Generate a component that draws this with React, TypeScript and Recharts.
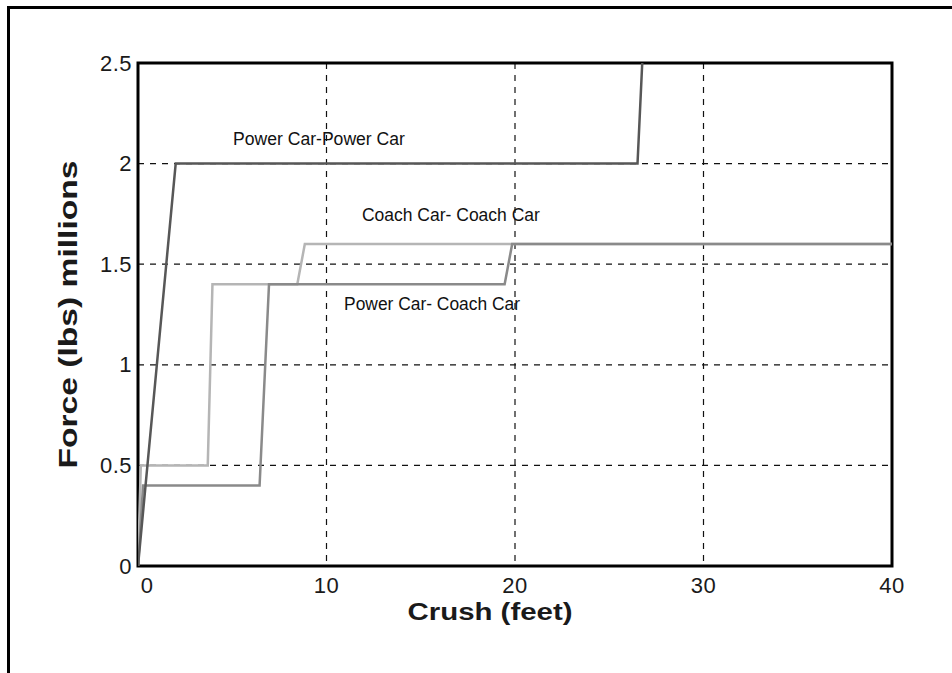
import React from 'react';
import {
  LineChart,
  Line,
  XAxis,
  YAxis,
  CartesianGrid,
  ReferenceArea,
  ReferenceDot,
  Label,
} from 'recharts';

// ---- data ----
const powerPowerX = [0, 2.0, 26.5, 26.75];
const powerPowerY = [0, 2.0, 2.0, 2.5];

const coachCoachX = [0, 0.15, 3.7, 3.95, 8.45, 8.85, 40];
const coachCoachY = [0, 0.5, 0.5, 1.4, 1.4, 1.6, 1.6];

const powerCoachX = [0, 0.27, 6.45, 6.95, 19.45, 19.85, 40];
const powerCoachY = [0, 0.4, 0.4, 1.4, 1.4, 1.6, 1.6];

const xTicks = [0, 10, 20, 30, 40];
const yTicks = [0, 0.5, 1, 1.5, 2, 2.5];

const annotationTexts = ['Power Car-Power Car', 'Coach Car- Coach Car', 'Power Car- Coach Car'];
const annotationX = [9.6, 16.6, 15.6];
const annotationY = [2.12, 1.745, 1.3];

const xTitle = 'Crush (feet)';
const yTitle = 'Force (lbs) millions';

// ---- styles ----
const FONT = "Arial, 'Liberation Sans', Helvetica, sans-serif";
const annotationLengths = [172, 178, 176];
const COLOR_DARK = '#575757';
const COLOR_MED = '#8a8a8a';
const COLOR_LIGHT = '#b5b5b5';

const zip = (xs: number[], ys: number[]) => xs.map((x, i) => ({ x, y: ys[i] }));
const powerPowerData = zip(powerPowerX, powerPowerY);
const coachCoachData = zip(coachCoachX, coachCoachY);
const powerCoachData = zip(powerCoachX, powerCoachY);

const XTick = (props: any) => {
  const { x, y, payload } = props;
  const shift = payload.value === 0 ? 9 : 0;
  return (
    <text x={x + shift} y={y} dy={19} textAnchor="middle" fontSize={22} letterSpacing={0.5} fill="#1a1a1a" fontFamily={FONT}>
      {String(payload.value)}
    </text>
  );
};

const YTick = (props: any) => {
  const { x, y, payload } = props;
  return (
    <text x={x} y={y} dy={7.5} textAnchor="end" fontSize={22} letterSpacing={0.5} fill="#1a1a1a" fontFamily={FONT}>
      {String(payload.value)}
    </text>
  );
};

const YTitle = (props: any) => {
  const vb = props.viewBox || {};
  const cx = vb.x - 10;
  const cy = vb.y + vb.height / 2;
  return (
    <text
      x={cx}
      y={cy}
      transform={`rotate(-90 ${cx} ${cy})`}
      textAnchor="middle"
      dominantBaseline="central"
      fontSize={25}
      fontWeight="bold"
      fill="#1a1a1a"
      fontFamily={FONT}
      textLength={308}
      lengthAdjust="spacingAndGlyphs"
    >
      {yTitle}
    </text>
  );
};

const XTitle = (props: any) => {
  const vb = props.viewBox || {};
  const cx = vb.x + vb.width / 2 - 25;
  const cy = vb.y + 45;
  return (
    <text
      x={cx}
      y={cy}
      textAnchor="middle"
      dominantBaseline="central"
      fontSize={24}
      fontWeight="bold"
      fill="#1a1a1a"
      fontFamily={FONT}
      textLength={165}
      lengthAdjust="spacingAndGlyphs"
    >
      {xTitle}
    </text>
  );
};

const makeAnnotation = (text: string, len: number) => (props: any) => {
  const vb = props.viewBox || {};
  const cx = vb.x + (vb.width || 0) / 2;
  const cy = vb.y + (vb.height || 0) / 2;
  return (
    <text
      x={cx}
      y={cy}
      textAnchor="middle"
      dominantBaseline="central"
      fontSize={17.5}
      fill="#111"
      fontFamily={FONT}
      textLength={len}
      lengthAdjust="spacingAndGlyphs"
    >
      {text}
    </text>
  );
};

export default function App() {
  return (
    <div style={{ position: 'absolute', left: 0, top: 0, width: 952, height: 673, background: '#fff' }}>
      <div
        style={{
          position: 'absolute',
          left: 7,
          top: 6,
          width: 945,
          height: 667,
          borderTop: '3px solid #000',
          borderLeft: '3px solid #000',
          boxSizing: 'border-box',
        }}
      />
      <div style={{ position: 'absolute', left: 0, top: 0 }}>
        <LineChart
          width={952}
          height={673}
          margin={{ top: 63, right: 60, bottom: 67, left: 78 }}
        >
          <CartesianGrid stroke="#111" strokeWidth={1.2} strokeDasharray="6 6" />
          <XAxis
            type="number"
            dataKey="x"
            domain={[0, 40]}
            ticks={xTicks}
            allowDataOverflow
            axisLine={false}
            tickLine={false}
            tickSize={0}
            tickMargin={8}
            height={40}
            tick={<XTick />}
            label={<Label content={<XTitle />} />}
          />
          <YAxis
            type="number"
            dataKey="y"
            domain={[0, 2.5]}
            ticks={yTicks}
            allowDataOverflow
            axisLine={false}
            tickLine={false}
            tickSize={0}
            tickMargin={6}
            width={60}
            tick={<YTick />}
            label={<Label content={<YTitle />} />}
          />
          <Line
            data={coachCoachData}
            dataKey="y"
            type="linear"
            stroke={COLOR_LIGHT}
            strokeWidth={2.5}
            dot={false}
            isAnimationActive={false}
          />
          <Line
            data={powerCoachData}
            dataKey="y"
            type="linear"
            stroke={COLOR_MED}
            strokeWidth={2.5}
            dot={false}
            isAnimationActive={false}
          />
          <Line
            data={powerPowerData}
            dataKey="y"
            type="linear"
            stroke={COLOR_DARK}
            strokeWidth={2.5}
            dot={false}
            isAnimationActive={false}
          />
          {annotationTexts.map((t, i) => (
            <ReferenceDot
              key={t}
              x={annotationX[i]}
              y={annotationY[i]}
              r={1}
              fill="none"
              stroke="none"
              label={<Label content={makeAnnotation(t, annotationLengths[i])} />}
            />
          ))}
          <ReferenceArea
            x1={0}
            x2={40}
            y1={0}
            y2={2.5}
            fill="none"
            fillOpacity={0}
            stroke="#000"
            strokeWidth={3}
          />
        </LineChart>
      </div>
    </div>
  );
}
